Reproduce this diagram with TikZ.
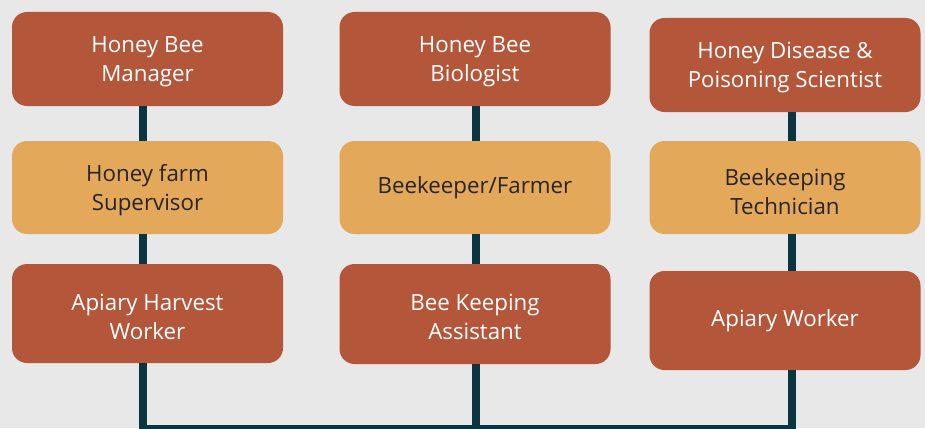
\documentclass[tikz,border=0pt]{standalone}
\usepackage{fontspec}
\setmainfont{Open Sans}
\definecolor{bgc}{HTML}{E8E8E8}
\definecolor{darkbox}{HTML}{B3563A}
\definecolor{lightbox}{HTML}{E4A85B}
\definecolor{linec}{HTML}{0B3541}
\definecolor{darktext}{HTML}{262422}
\begin{document}
\begin{tikzpicture}[x=1pt,y=-1pt,
  box/.style={rectangle, rounded corners=15pt, minimum width=271pt, inner sep=0pt,
    align=center, font=\fontsize{22.3}{29}\selectfont, text depth=0pt},
  darkb/.style={box, fill=darkbox, text=white},
  lightb/.style={box, fill=lightbox, text=darktext},
  conn/.style={draw=linec, line width=7.5pt, line join=miter, line cap=butt}]
\fill[bgc] (0,0) rectangle (925,428);
\useasboundingbox (0,0) rectangle (925,428);
% column 1
\node[darkb, minimum height=94pt, text height=45pt] (a1) at (147.5,59) {Honey Bee\\Manager};
\node[lightb, minimum height=93pt, text height=45pt] (a2) at (147.5,187.5) {Honey farm\\Supervisor};
\node[darkb, minimum height=99pt, text height=51.4pt] (a3) at (147.5,313.5) {Apiary Harvest\\Worker};
% column 2
\node[darkb, minimum height=94pt, text height=45pt] (b1) at (475,59) {Honey Bee\\Biologist};
\node[lightb, minimum height=93pt, text height=11pt] (b2) at (475,187.5) {Beekeeper/Farmer};
\node[darkb, minimum height=100pt, text height=51pt] (b3) at (475,314) {Bee Keeping\\Assistant};
% column 3
\node[darkb, minimum height=94pt, text height=45pt] (c1) at (785,65) {Honey Disease \&\\Poisoning Scientist};
\node[lightb, minimum height=93pt, text height=54pt] (c2) at (785,187.5) {Beekeeping\\Technician};
\node[darkb, minimum height=99pt, text height=11.6pt] (c3) at (785,320.5) {Apiary Worker};
% bottom rail
\coordinate (rail) at (792,428.5);
% connectors
\path[conn] ([xshift=-4.5pt]a1.south) -- ([xshift=-4.5pt]a2.north);
\path[conn] ([xshift=-4.5pt]a2.south) -- ([xshift=-4.5pt]a3.north);
\path[conn] ([xshift=-4.5pt]a3.south) |- (rail);
\path[conn] ([xshift=1pt]b1.south) -- ([xshift=1pt]b2.north);
\path[conn] ([xshift=1pt]b2.south) -- ([xshift=1pt]b3.north);
\path[conn] ([xshift=1pt]b3.south) -- ([xshift=1pt]b3.south |- rail);
\path[conn] ([xshift=7pt]c1.south) -- ([xshift=7pt]c2.north);
\path[conn] ([xshift=7pt]c2.south) -- ([xshift=7pt]c3.north);
\path[conn] ([xshift=7pt]c3.south) -- ([xshift=7pt]c3.south |- rail);
\end{tikzpicture}
\end{document}
